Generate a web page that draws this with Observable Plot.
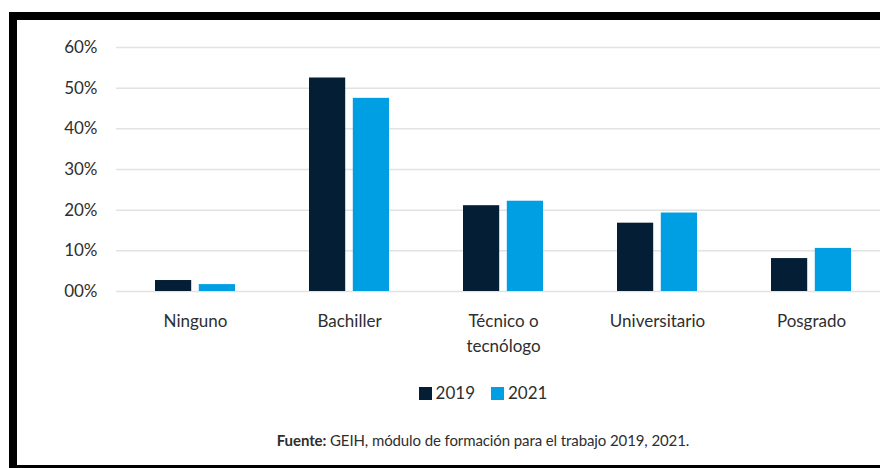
<!DOCTYPE html>
<html><head><meta charset="utf-8">
<script src="https://cdn.jsdelivr.net/npm/d3@7"></script>
<script src="https://cdn.jsdelivr.net/npm/@observablehq/plot@0.6"></script>
<style>
html,body{margin:0;padding:0;background:#fff;}
body{width:880px;height:468px;position:relative;overflow:hidden;font-family:Lato,"Open Sans",sans-serif;color:#2e2e2e;}
#frame{position:absolute;left:9px;top:12px;width:871px;height:456px;box-sizing:border-box;border-top:8px solid #000;border-left:8px solid #000;border-bottom:3px solid #000;}
#chart{position:absolute;left:17px;top:20px;}
#legend{position:absolute;top:382px;left:333px;width:300px;text-align:center;font-size:17px;line-height:22px;}
#legend span.item{display:inline-flex;align-items:center;margin:0 8px;}
#legend span.sw{display:inline-block;width:13px;height:13px;margin-right:4px;}
#caption{position:absolute;top:431px;left:133px;width:700px;text-align:center;font-size:15px;line-height:19px;letter-spacing:-0.1px;}
</style>
</head><body>
<div id="frame"></div>
<div id="chart"></div>
<div id="legend"></div>
<div id="caption"><b>Fuente:</b> GEIH, módulo de formación para el trabajo 2019, 2021.</div>
<script>
const categories = ["Ninguno", "Bachiller", "Técnico o\ntecnólogo", "Universitario", "Posgrado"];
const series = ["2019", "2021"];
const values2019 = [2.7, 52.5, 21.1, 16.8, 8.1];
const values2021 = [1.7, 47.5, 22.2, 19.3, 10.6];
const colors = ["#041f35", "#009fe3"];
const yTicks = [0, 10, 20, 30, 40, 50, 60];
const yTickLabels = ["00%", "10%", "20%", "30%", "40%", "50%", "60%"];

const data2019 = categories.map((c, i) => ({category: c, year: series[0], value: values2019[i]}));
const data2021 = categories.map((c, i) => ({category: c, year: series[1], value: values2021[i]}));

const chart = Plot.plot({
  width: 863,
  height: 350,
  marginLeft: 99,
  marginRight: 0,
  marginTop: 27,
  marginBottom: 79,
  style: {fontFamily: "Lato, 'Open Sans', sans-serif", fontSize: "17px", color: "#2e2e2e", background: "transparent"},
  x: {domain: categories, range: [136, 836], paddingInner: 0.48, paddingOuter: 0, axis: null},
  y: {domain: [0, 60], axis: null},
  color: {domain: series, range: colors},
  marks: [
    Plot.ruleY(yTicks, {stroke: "#e2e2e2", strokeWidth: 1.5}),
    Plot.barY(data2019, {x: "category", y: "value", fill: "year", insetRight: 43.8}),
    Plot.barY(data2021, {x: "category", y: "value", fill: "year", insetLeft: 43.8}),
    Plot.axisY(yTicks, {tickSize: 0, tickPadding: 19, label: null, tickFormat: d => yTickLabels[yTicks.indexOf(d)], fontSize: 17}),
    Plot.text(categories, {x: d => d, text: d => d, frameAnchor: "bottom", dy: 17, lineAnchor: "top", lineHeight: 1.5, fontSize: 17, fill: "#2e2e2e"})
  ]
});
document.getElementById("chart").appendChild(chart);

const legend = document.getElementById("legend");
series.forEach((s, i) => {
  const item = document.createElement("span");
  item.className = "item";
  const sw = document.createElement("span");
  sw.className = "sw";
  sw.style.background = colors[i];
  item.appendChild(sw);
  item.appendChild(document.createTextNode(s));
  legend.appendChild(item);
});
</script>
</body></html>
